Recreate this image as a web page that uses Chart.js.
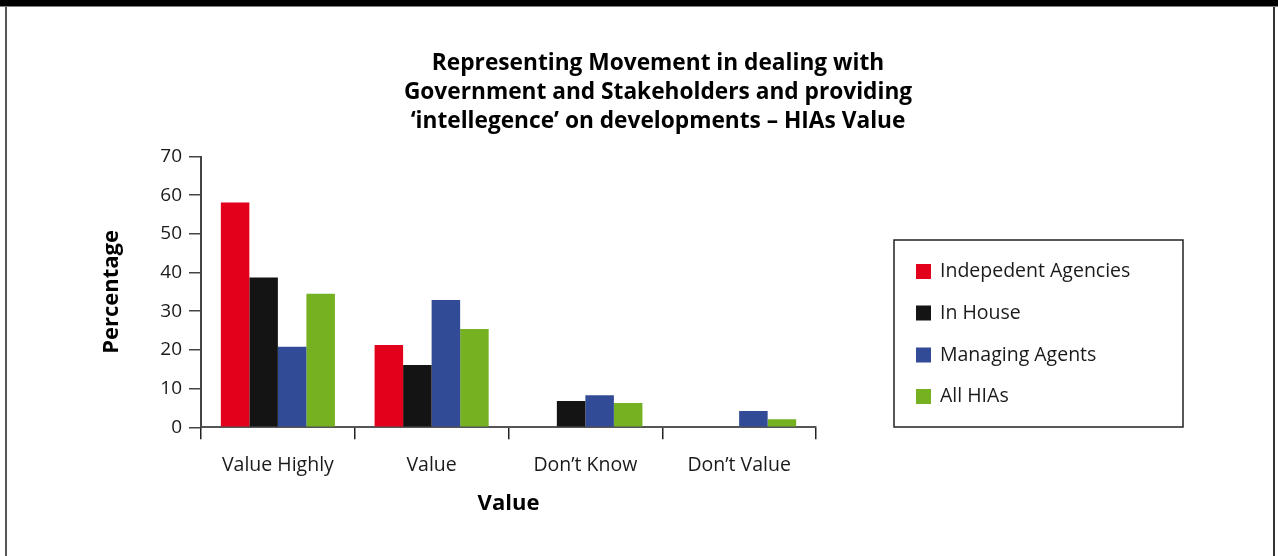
<!DOCTYPE html>
<html>
<head>
<meta charset="utf-8">
<script src="https://cdn.jsdelivr.net/npm/chart.js@4/dist/chart.umd.min.js"></script>
<style>
  html, body { margin: 0; padding: 0; background: #fff; }
  #wrap { position: relative; width: 1278px; height: 556px; overflow: hidden; }
  #topbar { position: absolute; left: 0; top: 0; width: 1278px; height: 6px; background: #000; border-bottom: 1px solid #808080; }
  #leftrule { position: absolute; left: 5px; top: 7px; width: 2px; height: 549px; background: #555; }
  #rightrule { position: absolute; left: 1273px; top: 7px; width: 2px; height: 549px; background: #333; }
  canvas { position: absolute; left: 0; top: 0; }
</style>
</head>
<body>
<div id="wrap">
  <canvas id="chart" width="1278" height="556"></canvas>
  <div id="topbar"></div>
  <div id="leftrule"></div>
  <div id="rightrule"></div>
</div>
<script>
// Survey responses (percentage of respondents)
const categories = ['Value Highly', 'Value', 'Don\u2019t Know', 'Don\u2019t Value'];
const seriesNames = ['Indepedent Agencies', 'In House', 'Managing Agents', 'All HIAs'];
const independentAgencies = [58.1, 21.3, 0, 0];
const inHouse = [38.7, 16.1, 6.8, 0];
const managingAgents = [20.8, 32.9, 8.3, 4.2];
const allHIAs = [34.5, 25.4, 6.3, 2.1];
const yTicks = [0, 10, 20, 30, 40, 50, 60, 70];

const colours = ['#e2001a', '#141414', '#324b96', '#75b120'];
const FONT = "'Open Sans', 'Noto Sans', sans-serif";

// Boxed legend drawn to the right of the plot
const boxedLegend = {
  id: 'boxedLegend',
  afterDraw(chart) {
    const ctx = chart.ctx;
    const box = { x: 894, y: 240, w: 289, h: 187 };
    ctx.save();
    ctx.strokeStyle = '#222';
    ctx.lineWidth = 1.5;
    ctx.strokeRect(box.x, box.y, box.w, box.h);
    ctx.font = '19.5px ' + FONT;
    ctx.textBaseline = 'middle';
    ctx.textAlign = 'left';
    const rowY = [271.5, 313, 355, 396.5];
    chart.data.datasets.forEach((ds, i) => {
      ctx.fillStyle = ds.backgroundColor;
      ctx.fillRect(916, rowY[i] - 7.5, 15, 15);
      ctx.fillStyle = '#1a1a1a';
      ctx.fillText(ds.label, 940, rowY[i]);
    });
    ctx.restore();
  }
};

const seriesValues = [independentAgencies, inHouse, managingAgents, allHIAs];

new Chart(document.getElementById('chart'), {
  type: 'bar',
  data: {
    labels: categories,
    datasets: seriesNames.map((name, i) => ({
      label: name,
      data: seriesValues[i],
      backgroundColor: colours[i],
      borderWidth: 0,
      categoryPercentage: 0.742,
      barPercentage: 1.0
    }))
  },
  options: {
    responsive: false,
    animation: false,
    layout: { padding: { left: 38, right: 0, top: 0, bottom: 0 } },
    plugins: {
      legend: { display: false },
      tooltip: { enabled: false },
      title: {
        display: true,
        text: [
          'Representing Movement in dealing with',
          'Government and Stakeholders and providing',
          '\u2018intellegence\u2019 on developments \u2013 HIAs Value'
        ],
        color: '#000',
        font: { family: FONT, size: 22.7, weight: 'bold', lineHeight: 29 / 22.7 },
        padding: { top: 49.5, bottom: 20 },
        align: 'center',
        fullSize: true
      }
    },
    scales: {
      x: {
        afterFit(scale) { scale.height = 128.7; },
        grid: {
          offset: true,
          drawOnChartArea: false,
          drawTicks: true,
          tickLength: 12,
          color: '#222',
          lineWidth: 1.5
        },
        border: { display: true, color: '#555', width: 2 },
        ticks: {
          color: '#1a1a1a',
          font: { family: FONT, size: 19.5 },
          padding: 14,
          maxRotation: 0
        },
        title: {
          display: true,
          text: 'Value',
          color: '#000',
          font: { family: FONT, size: 22, weight: 'bold', lineHeight: 1.2 },
          padding: { top: 0, bottom: 39.5 }
        }
      },
      y: {
        min: 0,
        max: 70,
        afterFit(scale) { scale.width = 163; },
        afterBuildTicks(scale) { scale.ticks = yTicks.map(v => ({ value: v })); },
        grid: {
          drawOnChartArea: false,
          drawTicks: true,
          tickLength: 12,
          color: '#444',
          lineWidth: 1.5
        },
        border: { display: true, color: '#444', width: 2 },
        ticks: {
          color: '#1a1a1a',
          font: { family: FONT, size: 19 },
          padding: 7
        },
        title: {
          display: true,
          text: 'Percentage',
          color: '#000',
          font: { family: FONT, size: 22, weight: 'bold', lineHeight: 1.2 },
          padding: { top: 61, bottom: 0 }
        }
      },
      // empty right-hand axis reserving the space the legend box sits in
      legendSpace: {
        type: 'linear',
        position: 'right',
        min: 0,
        max: 1,
        afterFit(scale) { scale.width = 462; },
        grid: { display: false, drawTicks: false },
        border: { display: false },
        ticks: { display: false }
      }
    }
  },
  plugins: [boxedLegend]
});
</script>
</body>
</html>
